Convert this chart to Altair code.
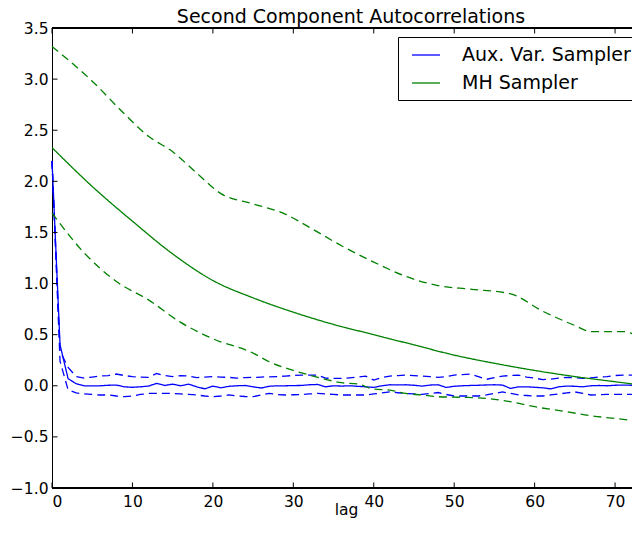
import altair as alt
import pandas as pd

# ---- data ----
aux_lags = list(range(0, 74))
aux_mean = [2.20, 0.40, 0.07, 0.02, 0.00, 0.00, 0.00, 0.005, 0.007, -0.01,
            -0.015, -0.01, -0.003, 0.023, 0.003, 0.016, 0.0, 0.016, -0.01, -0.03,
            -0.003, -0.02, -0.005, 0.0, 0.003, -0.01, -0.022, -0.005, 0.0, 0.0,
            0.002, 0.003, 0.01, 0.013, -0.01, 0.0, -0.003, 0.0, -0.005, -0.01,
            -0.016, 0.0, 0.01, 0.008, 0.01, 0.005, -0.003, 0.007, 0.01, -0.016,
            -0.005, 0.0, 0.003, 0.005, 0.008, 0.01, 0.007, -0.026, -0.01, -0.01,
            -0.015, -0.02, -0.03, -0.01, -0.003, -0.005, -0.01, 0.0, 0.003, 0.0,
            0.005, 0.007, 0.005, 0.01]
aux_upper = [2.20, 0.34, 0.18, 0.09, 0.075, 0.085, 0.095, 0.10, 0.115, 0.10,
             0.09, 0.085, 0.082, 0.12, 0.10, 0.09, 0.10, 0.095, 0.08, 0.085,
             0.09, 0.085, 0.082, 0.075, 0.08, 0.082, 0.085, 0.088, 0.09, 0.095,
             0.10, 0.105, 0.105, 0.105, 0.075, 0.072, 0.072, 0.078, 0.085, 0.095,
             0.056, 0.08, 0.095, 0.10, 0.105, 0.10, 0.095, 0.09, 0.082, 0.09,
             0.105, 0.11, 0.115, 0.09, 0.063, 0.08, 0.095, 0.10, 0.105, 0.085,
             0.075, 0.06, 0.065, 0.075, 0.082, 0.078, 0.072, 0.078, 0.085, 0.09,
             0.10, 0.105, 0.105, 0.105]
aux_lower = [2.20, 0.24, -0.04, -0.07, -0.08, -0.085, -0.09, -0.09, -0.10, -0.107,
             -0.10, -0.085, -0.075, -0.075, -0.075, -0.075, -0.08, -0.085, -0.09, -0.10,
             -0.107, -0.10, -0.09, -0.10, -0.105, -0.107, -0.09, -0.075, -0.085, -0.09,
             -0.088, -0.085, -0.08, -0.075, -0.08, -0.085, -0.09, -0.09, -0.09, -0.09,
             -0.08, -0.07, -0.06, -0.068, -0.075, -0.08, -0.085, -0.075, -0.066, -0.085,
             -0.10, -0.10, -0.10, -0.10, -0.09, -0.075, -0.06, -0.075, -0.09, -0.095,
             -0.10, -0.10, -0.09, -0.08, -0.07, -0.06, -0.075, -0.09, -0.088, -0.085,
             -0.085, -0.085, -0.085, -0.085]

mh_mean_lags = [0, 5, 10, 15, 20, 25, 30, 35, 40, 45, 50, 55, 60, 65, 70, 73]
mh_mean = [2.33, 1.95, 1.61, 1.29, 1.03, 0.86, 0.72, 0.60, 0.50, 0.40, 0.30, 0.22, 0.15, 0.09, 0.04, 0.01]

mh_upper_lags = [0, 5, 9, 12, 15, 18, 21, 25, 29, 32, 36, 40, 44, 48, 52, 57, 61, 65, 67, 71, 73]
mh_upper = [3.32, 2.98, 2.66, 2.44, 2.29, 2.08, 1.88, 1.78, 1.68, 1.55, 1.37, 1.21, 1.07, 0.98,
            0.945, 0.90, 0.73, 0.59, 0.53, 0.53, 0.48]

mh_lower_lags = [0, 4, 8, 12, 16, 20, 25, 27, 30, 32, 34, 36, 38, 40, 42, 44, 46, 48, 51, 54,
                 57, 60, 64, 67, 70, 73]
mh_lower = [1.69, 1.30, 1.02, 0.84, 0.62, 0.46, 0.32, 0.235, 0.15, 0.105, 0.063, 0.03, 0.017,
            -0.032, -0.042, -0.075, -0.09, -0.107, -0.113, -0.123, -0.156, -0.205, -0.254,
            -0.293, -0.32, -0.345]

samplers = ["Aux. Var. Sampler", "MH Sampler"]
colors = ["#0000ff", "#008000"]
x_ticks = [0, 10, 20, 30, 40, 50, 60, 70]
y_ticks = [-1.0, -0.5, 0.0, 0.5, 1.0, 1.5, 2.0, 2.5, 3.0, 3.5]
title_text = ["Second Component Autocorrelations"]

W_FULL = 588   # full axes width (extends past the window edge, as in the reference crop)
W, H = 580, 460  # visible part kept inside the page
FONT = "DejaVu Sans"


def rows(lags, vals, sampler, series, kind):
    return [{"lag": l, "value": v, "sampler": sampler, "series": series, "kind": kind}
            for l, v in zip(lags, vals)]


aux_df = pd.DataFrame(
    rows(aux_lags, aux_mean, samplers[0], "aux_mean", "mean")
    + rows(aux_lags, aux_upper, samplers[0], "aux_upper", "bound")
    + rows(aux_lags, aux_lower, samplers[0], "aux_lower", "bound")
)
mh_df = pd.DataFrame(
    rows(mh_mean_lags, mh_mean, samplers[1], "mh_mean", "mean")
    + rows(mh_upper_lags, mh_upper, samplers[1], "mh_upper", "bound")
    + rows(mh_lower_lags, mh_lower, samplers[1], "mh_lower", "bound")
)

xscale = alt.Scale(domain=[0, 73.1], range=[0, W_FULL], nice=False, zero=False)
yscale = alt.Scale(domain=[-1.0, 3.5], nice=False, zero=False)

color = alt.Color(
    "sampler:N",
    scale=alt.Scale(domain=samplers, range=colors),
    legend=alt.Legend(
        title=None, orient="none", legendX=346, legendY=9,
        symbolType="M-1.4,0H1.4", symbolSize=400, symbolStrokeWidth=1.3,
        symbolOffset=10, labelOffset=25, labelLimit=0,
        labelFontSize=19, labelFont=FONT, labelColor="black",
        strokeColor="black", fillColor="white", padding=7, cornerRadius=0,
        rowPadding=7,
    ),
)
dash = alt.StrokeDash(
    "kind:N",
    scale=alt.Scale(domain=["mean", "bound"], range=[[1, 0], [8, 5]]),
    legend=None,
)

x_enc = alt.X(
    "lag:Q", scale=xscale,
    axis=alt.Axis(values=x_ticks, format="d", title="lag", ticks=False, grid=False,
                  domain=False,
                  labelFontSize=15.5, labelFont=FONT, labelColor="black", labelPadding=6,
                  titleFontSize=15.5, titleFont=FONT, titleFontWeight="normal",
                  titleColor="black", titleBaseline="alphabetic", titleY=26),
)
y_enc = alt.Y(
    "value:Q", scale=yscale,
    axis=alt.Axis(values=y_ticks, format=".1f", title=None, ticks=False, grid=False,
                  domain=True, domainColor="black", domainWidth=1,
                  labelFontSize=15.5, labelFont=FONT, labelColor="black", labelPadding=4),
)

aux_lines = alt.Chart(aux_df).mark_line(strokeWidth=1.3).encode(
    x=x_enc, y=y_enc, color=color, strokeDash=dash, detail="series:N"
)
mh_lines = alt.Chart(mh_df).mark_line(strokeWidth=1.3, interpolate="monotone").encode(
    x=alt.X("lag:Q", scale=xscale), y=alt.Y("value:Q", scale=yscale),
    color=color, strokeDash=dash, detail="series:N"
)

xt_df = pd.DataFrame({"lag": x_ticks})
yt_df = pd.DataFrame({"value": y_ticks})

xt_bottom = alt.Chart(xt_df).mark_rule(color="black", strokeWidth=1).encode(
    x=alt.X("lag:Q", scale=xscale), y=alt.value(H), y2=alt.value(H - 5.5)
)
xt_top = alt.Chart(xt_df).mark_rule(color="black", strokeWidth=1).encode(
    x=alt.X("lag:Q", scale=xscale), y=alt.value(0), y2=alt.value(5.5)
)
yt_left = alt.Chart(yt_df).mark_rule(color="black", strokeWidth=1).encode(
    y=alt.Y("value:Q", scale=yscale), x=alt.value(0), x2=alt.value(5.5)
)
top_spine = alt.Chart(xt_df).mark_rule(color="black", strokeWidth=1).encode(
    x=alt.value(0), x2=alt.value(W_FULL), y=alt.value(0)
)
bottom_spine = alt.Chart(xt_df).mark_rule(color="black", strokeWidth=1).encode(
    x=alt.value(0), x2=alt.value(W_FULL), y=alt.value(H)
)
title_mark = alt.Chart(pd.DataFrame({"t": title_text})).mark_text(
    font=FONT, fontSize=19, color="black", align="center", baseline="alphabetic"
).encode(text="t:N", x=alt.value(299), y=alt.value(-5.5))

chart = (
    alt.layer(aux_lines, mh_lines, xt_bottom, xt_top, yt_left, top_spine, bottom_spine,
              title_mark)
    .properties(
        width=W, height=H,
        autosize=alt.AutoSizeParams(type="none"),
        padding={"left": 44, "top": 20, "right": 0, "bottom": 33},
    )
    .configure_view(stroke=None)
    .configure(background="white")
)

chart.save("out.html", embed_options={"renderer": "svg", "actions": False})
